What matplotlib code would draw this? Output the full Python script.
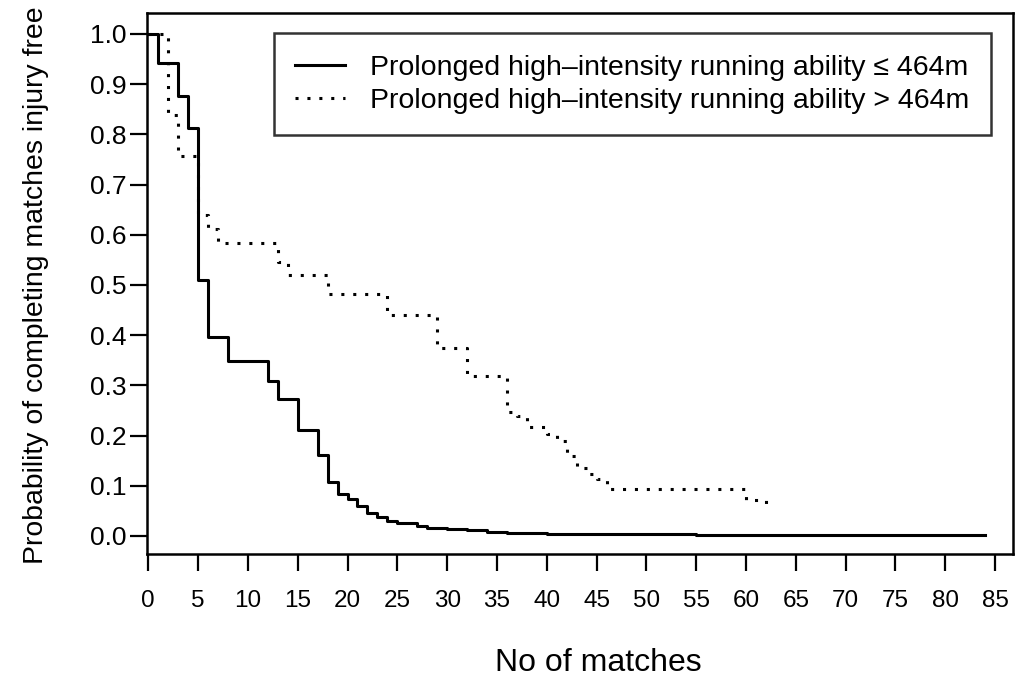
import matplotlib
matplotlib.use("Agg")
import matplotlib.pyplot as plt

plt.rcParams["font.family"] = ["Liberation Sans", "DejaVu Sans"]

# survival curves (step changes at these match counts)
low_x = [0, 1, 3, 4, 5, 6, 8, 12, 13, 15, 17, 18, 19, 20, 21, 22, 23, 24, 25,
         27, 28, 30, 32, 34, 36, 40, 45, 55, 70, 84]
low_y = [1.0, 0.943, 0.876, 0.812, 0.510, 0.397, 0.349, 0.309, 0.272, 0.210,
         0.161, 0.108, 0.084, 0.074, 0.060, 0.046, 0.038, 0.030, 0.026,
         0.020, 0.015, 0.013, 0.011, 0.008, 0.006, 0.004, 0.003, 0.002,
         0.001, 0.001]

high_x = [0, 2, 3, 5, 6, 7, 13, 14, 18, 24, 29, 32, 36, 37, 38, 40, 41, 42,
          43, 44, 45, 46, 60, 62]
high_y = [1.0, 0.839, 0.757, 0.639, 0.612, 0.583, 0.545, 0.520, 0.482, 0.441,
          0.375, 0.319, 0.246, 0.238, 0.216, 0.203, 0.190, 0.160, 0.135,
          0.124, 0.114, 0.094, 0.072, 0.057]

labels = ["Prolonged high\u2013intensity running ability \u2264 464m",
          "Prolonged high\u2013intensity running ability > 464m"]

x_ticks = list(range(0, 90, 5))
y_ticks = [i / 10 for i in range(11)]

fig = plt.figure(figsize=(10.22, 6.83), dpi=100)
ax = fig.add_axes([0.1441, 0.1889, 0.8471, 0.7916])

ax.step(low_x, low_y, where="post", color="black", linewidth=2.2,
        label=labels[0])
ax.step(high_x, high_y, where="post", color="black", linewidth=2.2,
        linestyle=(0, (1, 2.9)), label=labels[1])

ax.set_xlim(-0.1, 86.8)
ax.set_ylim(-0.036, 1.041)
ax.set_xticks(x_ticks)
ax.set_yticks(y_ticks)
ax.set_yticklabels([f"{v:.1f}" for v in y_ticks])

for s in ax.spines.values():
    s.set_linewidth(1.8)
ax.tick_params(direction="out", length=12, width=1.6, colors="black")
ax.tick_params(axis="x", pad=14, labelsize=17.5)
ax.tick_params(axis="y", pad=3, labelsize=19)

leg = ax.legend(loc="upper right", bbox_to_anchor=(0.9746, 0.963),
                borderaxespad=0, fontsize=20.5, frameon=True, fancybox=False,
                handlelength=1.76, handletextpad=0.88, borderpad=0.75,
                labelspacing=0.25)
leg.get_frame().set_edgecolor("black")
leg.get_frame().set_linewidth(1.8)

fig.text(0.585, 0.029, "No of matches", ha="center", va="center",
         fontsize=23)
fig.text(0.0352, 0.583, "Probability of completing matches injury free",
         ha="center", va="center", rotation=90, fontsize=20.4)

fig.savefig("out.png", dpi=100)
